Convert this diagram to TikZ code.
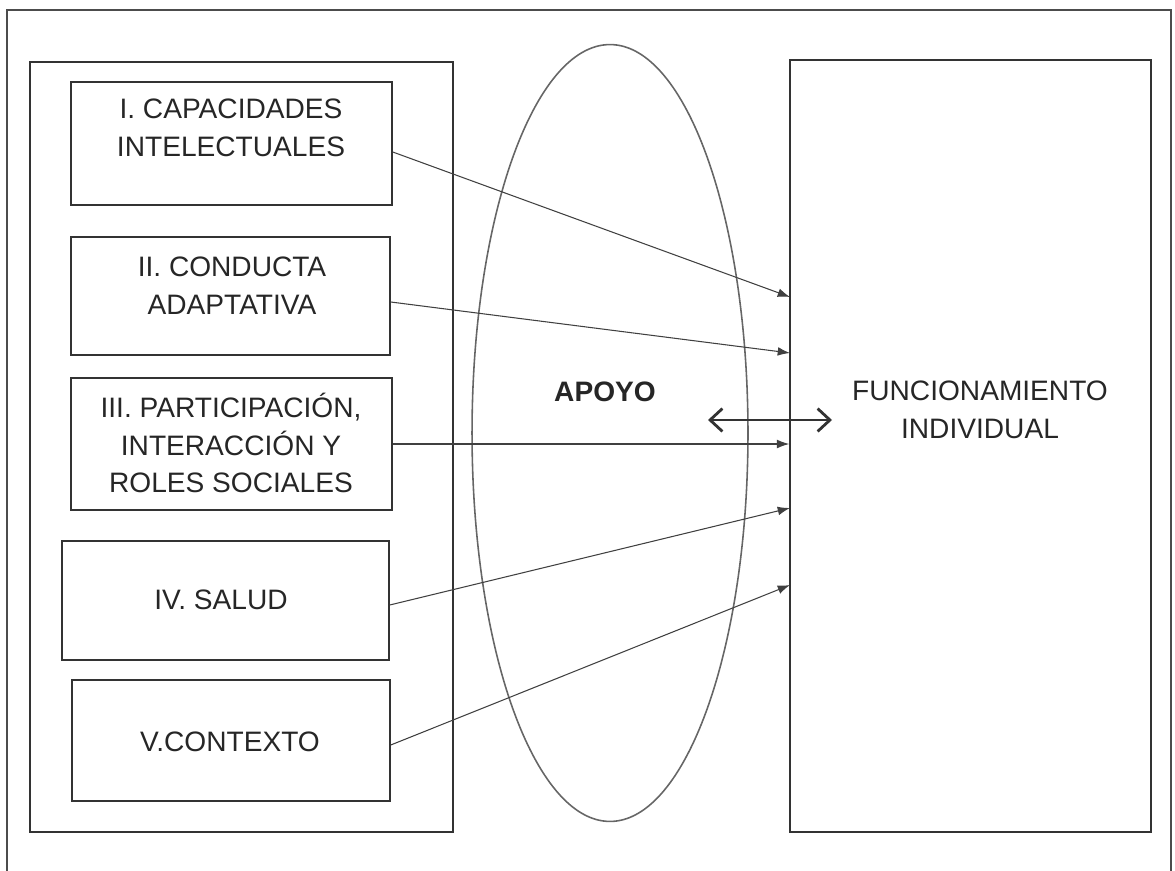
\documentclass[tikz,border=0pt]{standalone}
\usepackage{fontspec}
\setmainfont{Liberation Sans}
\usetikzlibrary{arrows.meta,shapes.geometric}
\begin{document}
\begin{tikzpicture}[x=0.02cm,y=-0.02cm,font=\fontsize{16}{21.5}\selectfont,
  linea/.style={draw=black!80,line width=0.9pt},
  caja/.style={linea,inner sep=0pt},
  texto/.style={align=center,text=black!85},
  flecha/.style={draw=black!75,line width=0.6pt,-{Latex[length=7pt,width=5pt]}},
  doble/.style={draw=black!80,line width=1.6pt,{Straight Barb[length=7pt,width=13pt]}-{Straight Barb[length=7pt,width=13pt]}}]
\useasboundingbox (0,0) rectangle (1175,871);
% marco
\draw[black!70,line width=0.7pt] (7,871)--(7,10)--(1171,10)--(1171,871);
% dimensiones
\node[caja,minimum width=8.46cm,minimum height=15.4cm] (izq) at (241.5,447) {};
\node[caja,minimum width=6.42cm,minimum height=2.46cm] (c1) at (231.5,143.5) {};
\node[caja,minimum width=6.38cm,minimum height=2.36cm] (c2) at (230.5,296) {};
\node[caja,minimum width=6.42cm,minimum height=2.64cm] (c3) at (231.5,444) {};
\node[caja,minimum width=6.54cm,minimum height=2.38cm] (c4) at (225.5,600.5) {};
\node[caja,minimum width=6.36cm,minimum height=2.42cm] (c5) at (231,740.5) {};
\node[texto] (t1) at (231,128) {I. CAPACIDADES\\INTELECTUALES};
\node[texto] (t2) at (232,286) {II. CONDUCTA\\ADAPTATIVA};
\node[texto] (t3) at (231,443) {III. PARTICIPACIÓN,\\INTERACCIÓN Y\\ROLES SOCIALES};
\node[texto] (t4) at (221,600) {IV. SALUD};
\node[texto] (t5) at (230,742) {V.CONTEXTO};
% apoyo
\node[draw=black!60,line width=0.9pt,ellipse,minimum width=5.52cm,minimum height=15.54cm] (el) at (610,433) {};
\node[texto,font=\fontsize{16}{21.5}\selectfont\bfseries] (ap) at (605,392) {APOYO};
% funcionamiento
\node[caja,minimum width=7.22cm,minimum height=15.44cm] (fi) at (970.5,446) {};
\node[texto] (tf) at (980,410) {FUNCIONAMIENTO\\INDIVIDUAL};
\coordinate (e1) at (790,297);
\coordinate (e2) at (790,353);
\coordinate (e4) at (790,508);
\coordinate (e5) at (790,585);
\draw[flecha] ([yshift=-0.17cm]c1.east)--(e1);
\draw[flecha] ([yshift=-0.12cm]c2.east)--(e2);
\draw[flecha] (c3.east)--(c3.east-|fi.west);
\draw[flecha] ([yshift=-0.09cm]c4.east)--(e4);
\draw[flecha] ([yshift=-0.09cm]c5.east)--(e5);
\coordinate (da) at (708,420);
\coordinate (db) at (832,420);
\draw[doble] (da)--(db);
\end{tikzpicture}
\end{document}
